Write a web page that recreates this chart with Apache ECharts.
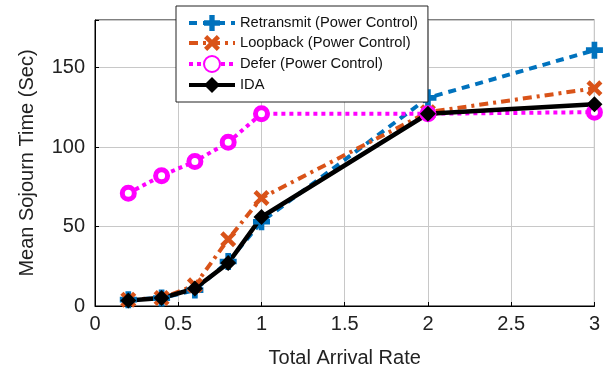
<!DOCTYPE html>
<html><head><meta charset="utf-8">
<script src="https://cdn.jsdelivr.net/npm/echarts@6/dist/echarts.min.js"></script>
<style>html,body{margin:0;padding:0;background:#fff}#c{width:603px;height:373px}</style>
</head><body><div id="c"></div>
<script>
const xValues = [0.2, 0.4, 0.6, 0.8, 1, 2, 3];
const retransmit = [4, 5, 10, 28, 53, 131, 161];
const loopback = [4, 5, 13, 42, 68, 122, 137];
const deferS = [71, 82, 91, 103, 121, 121, 122];
const ida = [3.5, 5, 11, 27, 56, 121, 127];
const seriesNames = ['Retransmit (Power Control)', 'Loopback (Power Control)', 'Defer (Power Control)', 'IDA'];
const xTicks = [0, 0.5, 1, 1.5, 2, 2.5, 3];
const yTicks = [0, 50, 100, 150];

const pair = arr => xValues.map((x, i) => [x, arr[i]]);
const plusPath = 'path://M-1,-3H1V-1H3V1H1V3H-1V1H-3V-1H-1Z';
const crossPath = 'path://M-2.1,-3.5L0,-1.4L2.1,-3.5L3.5,-2.1L1.4,0L3.5,2.1L2.1,3.5L0,1.4L-2.1,3.5L-3.5,2.1L-1.4,0L-3.5,-2.1Z';
const font = 'Liberation Sans, Arial, sans-serif';
const colors = ['#0072BD', '#D95319', '#FF00FF', '#000000'];
const dashes = [[8, 6], [9, 5, 3, 5], [4, 4], 'solid'];

const chart = echarts.init(document.getElementById('c'), null, {renderer: 'canvas'});
chart.setOption({
  animation: false,
  grid: {left: 95, right: 8, top: 20, bottom: 66, show: true, borderColor: '#000', borderWidth: 1},
  legend: {
    orient: 'vertical', left: 176, top: 6,
    backgroundColor: '#fff', borderColor: '#222', borderWidth: 1,
    padding: [9, 10, 9, 11], itemGap: 4, itemWidth: 46, itemHeight: 20,
    lineStyle: {width: 4},
    textStyle: {fontFamily: font, fontSize: 14.7, color: '#111'},
    data: seriesNames.map((n, i) => ({name: n, lineStyle: {width: 4, color: colors[i], type: dashes[i]}}))
  },
  xAxis: {
    type: 'value', min: 0, max: 3, interval: 0.5,
    name: 'Total Arrival Rate', nameLocation: 'middle', nameGap: 42,
    nameTextStyle: {fontFamily: font, fontSize: 20, color: '#222'},
    axisLine: {show: true, lineStyle: {color: '#000'}},
    axisTick: {show: true, inside: true, length: 4, lineStyle: {color: '#000'}},
    axisLabel: {fontFamily: font, fontSize: 20, color: '#222', margin: 8,
      formatter: v => xTicks.includes(v) ? String(v) : ''},
    splitLine: {show: true, lineStyle: {color: '#c8c8c8', width: 1}}
  },
  yAxis: {
    type: 'value', min: 0, max: 180, interval: 50,
    name: 'Mean Sojourn Time (Sec)', nameLocation: 'middle', nameGap: 58,
    nameTextStyle: {fontFamily: font, fontSize: 20, color: '#222'},
    axisLine: {show: true, lineStyle: {color: '#000'}},
    axisTick: {show: true, inside: true, length: 4, lineStyle: {color: '#000'}},
    axisLabel: {fontFamily: font, fontSize: 20, color: '#222', margin: 10,
      formatter: v => yTicks.includes(v) ? String(v) : ''},
    splitLine: {show: true, lineStyle: {color: '#c8c8c8', width: 1}}
  },
  series: [
    {name: seriesNames[0], type: 'line', data: pair(retransmit),
     symbol: plusPath, symbolSize: 17,
     itemStyle: {color: colors[0]},
     lineStyle: {color: colors[0], width: 4, type: dashes[0]}},
    {name: seriesNames[1], type: 'line', data: pair(loopback),
     symbol: crossPath, symbolSize: 16,
     itemStyle: {color: colors[1]},
     lineStyle: {color: colors[1], width: 4, type: dashes[1]}},
    {name: seriesNames[2], type: 'line', data: pair(deferS),
     symbol: 'circle', symbolSize: 12,
     itemStyle: {color: '#fff', borderColor: colors[2], borderWidth: 5},
     lineStyle: {color: colors[2], width: 4, type: dashes[2]}},
    {name: seriesNames[3], type: 'line', data: pair(ida),
     symbol: 'diamond', symbolSize: 16,
     itemStyle: {color: colors[3]},
     lineStyle: {color: colors[3], width: 4.5, type: dashes[3]}}
  ]
});
</script></body></html>
